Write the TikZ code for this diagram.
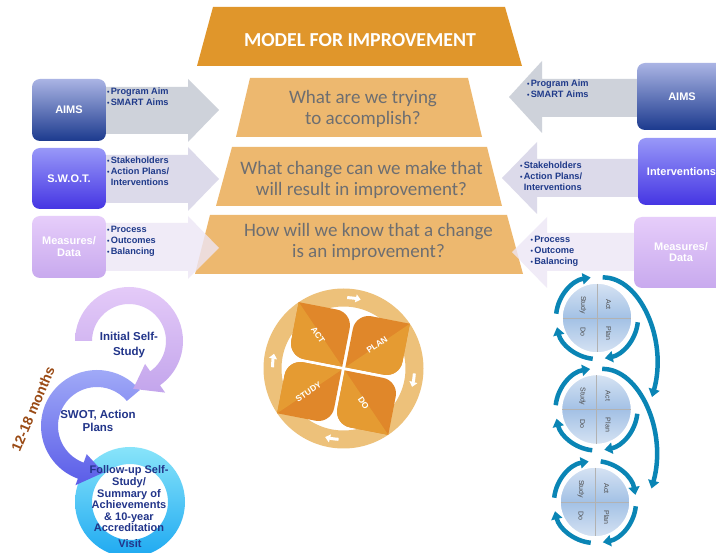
\documentclass[tikz,border=0pt]{standalone}
\usepackage{fontspec}
\setmainfont{Liberation Sans}
\newfontfamily\calib{Carlito}
\usetikzlibrary{arrows.meta,calc}
\definecolor{titleor}{HTML}{E0962B}
\definecolor{qor}{HTML}{EDB86F}
\definecolor{qtxt}{HTML}{6D6E71}
\definecolor{aimsarrow}{HTML}{CED2DA}
\definecolor{swotarrow}{HTML}{DCDAEA}
\definecolor{measarrow}{HTML}{EDE6F5}
\definecolor{aimstop}{HTML}{AAB4E4}
\definecolor{aimsbot}{HTML}{1C3A8E}
\definecolor{swottop}{HTML}{9898F8}
\definecolor{swotbot}{HTML}{4535E3}
\definecolor{meastop}{HTML}{E6CDFA}
\definecolor{measbot}{HTML}{C8A9EE}
\definecolor{navy}{HTML}{1F3A8A}
\definecolor{ringnavy}{HTML}{22358A}
\definecolor{ringor}{HTML}{EDC17A}
\definecolor{petaldark}{HTML}{E0872A}
\definecolor{petallight}{HTML}{E59B32}
\definecolor{pdsablue}{HTML}{0A85B5}
\definecolor{cyclight}{HTML}{D6E3F3}
\definecolor{cycdark}{HTML}{A3C1E5}
\definecolor{lavtop}{HTML}{E4CAF8}
\definecolor{lavbot}{HTML}{C3A5EC}
\definecolor{bluetop}{HTML}{A4AEF8}
\definecolor{bluebot}{HTML}{5A5CE8}
\definecolor{cyantop}{HTML}{88E4FA}
\definecolor{cyanbot}{HTML}{1EA9F1}
\definecolor{brownish}{HTML}{9A4A14}
\newcommand{\bl}{{\fontsize{7}{7}\selectfont •}\hspace{1.2pt}}
\tikzset{
  qtext/.style={font=\calib\fontsize{19}{21}\selectfont, text=qtxt, align=center, inner sep=0pt},
  boxa/.style={rounded corners=8pt, inner sep=0pt, text=white, align=center,
    font=\bfseries\fontsize{11}{12}\selectfont},
  bul/.style={font=\bfseries\fontsize{9.2}{11}\selectfont, text=navy, align=left, inner sep=0pt, anchor=north west},
  ringtext/.style={font=\bfseries\fontsize{11}{12}\selectfont, text=ringnavy, align=center, inner sep=0pt},
  petaltext/.style={font=\bfseries\fontsize{8.5}{9}\selectfont, text=white, inner sep=0pt},
  ringarrow/.style={white, line width=3pt, -{Triangle[length=5pt,width=8pt]}},
  cyc/.style={circle, minimum size=70pt, inner sep=0pt, draw=white, line width=1.5pt,
    top color=cyclight, bottom color=cyclight, middle color=cycdark},
  cyclab/.style={font=\fontsize{7}{8}\selectfont, text=black!70, rotate=-90, inner sep=0pt},
  parrow/.style={draw=pdsablue, line width=4.5pt, -{Triangle[length=8pt,width=11pt]}}
}
\begin{document}
\begin{tikzpicture}[x=1pt,y=-1pt]
\useasboundingbox (0,0) rectangle (716,553);
\clip (0,0) rectangle (716,553);
\fill[white] (0,0) rectangle (716,553);

% title
\fill[titleor] (213,7) -- (505,7) -- (522,66) -- (197,66) -- cycle;
\node[font=\calib\bfseries\fontsize{19.8}{22}\selectfont, text=white, inner sep=0pt] (title) at (360,40) {MODEL FOR IMPROVEMENT};

% question trapezoids
\fill[qor] (250,78) -- (468,78) -- (482,137) -- (236,137) -- cycle;
\fill[qor] (232,147) -- (487,147) -- (502,206) -- (216,206) -- cycle;
\fill[qor] (210,215) -- (507,215) -- (523,274) -- (195,274) -- cycle;

% left arrows
\fill[aimsarrow] (100,87) -- (188,87) -- (188,79) -- (219,110) -- (188,142) -- (188,134) -- (100,134) -- cycle;
\fill[swotarrow] (100,155) -- (188,155) -- (188,147) -- (219,179) -- (188,211) -- (188,203) -- (100,203) -- cycle;
\fill[measarrow, opacity=.8] (100,223) -- (188,223) -- (188,216) -- (219,248) -- (188,279) -- (188,271) -- (100,271) -- cycle;
% right arrows
\fill[aimsarrow] (645,79) -- (542,79) -- (542,61) -- (509,97) -- (542,133) -- (542,117) -- (645,117) -- cycle;
\fill[swotarrow] (645,159) -- (537,159) -- (537,142) -- (502,178) -- (537,214) -- (537,197) -- (645,197) -- cycle;
\fill[measarrow, opacity=.8] (645,233) -- (547,233) -- (547,217) -- (512,252) -- (547,288) -- (547,271) -- (645,271) -- cycle;

% question texts
\node[qtext] (q1) at (363,109) {What are we trying\\to accomplish?};
\node[qtext] (q2) at (361.5,179.5) {What change can we make that\\will result in improvement?};
\node[qtext] (q3) at (368.5,242) {How will we know that a change\\is an improvement?};

% left boxes
\node[boxa, minimum width=74pt, minimum height=62pt, top color=aimstop, bottom color=aimsbot] (laims) at (69,110) {AIMS};
\node[boxa, minimum width=74pt, minimum height=61pt, top color=swottop, bottom color=swotbot] (lswot) at (69,178.5) {S.W.O.T.};
\node[boxa, minimum width=74pt, minimum height=62pt, top color=meastop, bottom color=measbot] (lmeas) at (69,247) {Measures/\\Data};
% right boxes
\node[boxa, minimum width=90pt, minimum height=67pt, top color=aimstop, bottom color=aimsbot] (raims) at (682,96.5) {AIMS};
\node[boxa, minimum width=87pt, minimum height=67pt, top color=swottop, bottom color=swotbot] (rint) at (681.5,171.5) {Interventions};
\node[boxa, minimum width=94pt, minimum height=71pt, top color=meastop, bottom color=measbot, font=\bfseries\fontsize{11}{11}\selectfont] (rmeas) at (681,252.5) {Measures/\\Data};

% bullet texts
\node[bul] (bla) at (107,88) {\bl Program Aim\\\bl SMART Aims};
\node[bul] (bls) at (107,157) {\bl Stakeholders\\\bl Action Plans/\\\hphantom{\bl}Interventions};
\node[bul] (blm) at (107,225.5) {\bl Process\\\bl Outcomes\\\bl Balancing};
\node[bul] (bra) at (527,79.5) {\bl Program Aim\\\bl SMART Aims};
\node[bul] (bri) at (520,161.5) {\bl Stakeholders\\\bl Action Plans/\\\hphantom{\bl}Interventions};
\node[bul] (brm) at (530.5,235.5) {\bl Process\\\bl Outcome\\\bl Balancing};

% PDSA wheel
\coordinate (wc) at (343.5,368.5);
\fill[ringor, even odd rule] (wc) circle[radius=80] (wc) circle[radius=62];
\foreach \r/\h in {-11/0, -101/1, 79/1, -191/1} {
  \begin{scope}[shift={(wc)}, rotate=\r]
    \clip (-56.6,-56.6) -- (-17.6,-56.6) arc[start angle=-90,end angle=0,radius=16]
      -- (-1.6,-1.6) -- (-40.6,-1.6) arc[start angle=90,end angle=180,radius=16] -- cycle;
    \fill[petaldark] (-60,-60) rectangle (0,0);
    \ifnum\h=0
      \fill[petallight] (-60,-60) -- (0,0) -- (-60,0) -- cycle;
    \else
      \fill[petallight] (-60,-60) -- (0,0) -- (0,-60) -- cycle;
    \fi
  \end{scope}
}
\draw[ringarrow] ($(wc)+(-87:71)$) arc[start angle=-87,end angle=-76,radius=71];
\draw[ringarrow] ($(wc)+(4:71)$) arc[start angle=4,end angle=15,radius=71];
\draw[ringarrow] ($(wc)+(94:71)$) arc[start angle=94,end angle=105,radius=71];
\draw[ringarrow] ($(wc)+(-179:71)$) arc[start angle=-179,end angle=-168,radius=71];
\node[petaltext, rotate=-56] (tact) at (318,335) {ACT};
\node[petaltext, rotate=34] (tplan) at (377,345) {PLAN};
\node[petaltext, rotate=34] (tstudy) at (308.5,392) {STUDY};
\node[petaltext, rotate=-56] (tdo) at (363.5,403) {DO};

% left cycle rings
\coordinate (c1) at (129,341);
\coordinate (c2) at (97,426);
\coordinate (c3) at (130,502);
\path[even odd rule, top color=cyantop, bottom color=cyanbot] (c3) circle[radius=55] (c3) circle[radius=38];
\path[top color=bluetop, bottom color=bluebot] ($(c2)+(-40:56)$) arc[start angle=-40,end angle=-250,radius=56]
  -- ($(c2)+(-250:63)$) -- ($(c2)+(-278:47)$) -- ($(c2)+(-250:30)$) -- ($(c2)+(-250:39)$)
  arc[start angle=-250,end angle=-40,radius=39] -- cycle;
\path[top color=lavtop, bottom color=lavbot] ($(c1)+(-180:54)$) arc[start angle=-180,end angle=55,radius=54]
  -- ($(c1)+(55:63)$) -- ($(c1)+(85:48)$) -- ($(c1)+(55:28)$) -- ($(c1)+(55:37)$)
  arc[start angle=55,end angle=-180,radius=37] -- cycle;
\node[ringtext, font=\bfseries\fontsize{11.5}{15}\selectfont] (t1) at (129,345) {Initial Self-\\Study};
\node[ringtext, font=\bfseries\fontsize{11.5}{12.5}\selectfont] (t2) at (98,421) {SWOT, Action\\Plans};
\node[ringtext, font=\bfseries\fontsize{11}{11.6}\selectfont] (t3) at (129,499) {Follow-up Self-\\Study/\\Summary of\\Achievements\\\& 10-year\\Accreditation};
\node[ringtext] (t4) at (130,544) {Visit};
\node[font=\bfseries\fontsize{14}{15}\selectfont, text=brownish, rotate=67, inner sep=0pt] (months) at (33,409) {12-18 months};

% right PDSA stack
\node[cyc] (p1) at (597,318) {};
\node[cyc] (p2) at (596.5,409.5) {};
\node[cyc] (p3) at (595,502) {};
\foreach \p in {p1,p2,p3}{
  \draw[black!30, line width=0.6pt] ($(\p.north)+(0,1.5)$) -- ($(\p.south)+(0,-1.5)$);
  \draw[black!30, line width=0.6pt] ($(\p.west)+(1.5,0)$) -- ($(\p.east)+(-1.5,0)$);
  \node[cyclab] at ($(\p)+(11.5,-13.5)$) {Act};
  \node[cyclab] at ($(\p)+(11.5,15.5)$) {Plan};
  \node[cyclab] at ($(\p)+(-14,-13)$) {Study};
  \node[cyclab] at ($(\p)+(-14,14)$) {Do};
  \draw[parrow] ($(\p)+(-174:41)$) arc[start angle=-174,end angle=-99,radius=41];
  \draw[parrow] ($(\p)+(6:41)$) arc[start angle=6,end angle=79,radius=41];
  \draw[parrow] ($(\p)+(96:41)$) arc[start angle=96,end angle=167,radius=41];
}
\draw[parrow] ($(p1)+(-82:41)$) .. controls ($(p1)+(43,-41)$) and ($(p1)+(71,22)$) .. ($(p1)+(55,79)$);
\draw[parrow] ($(p2)+(-82:41)$) .. controls ($(p2)+(43,-41)$) and ($(p2)+(71,22)$) .. ($(p2)+(55,79)$);
\draw[parrow] ($(p3)+(-82:41)$) arc[start angle=-82,end angle=-10,radius=41];
\end{tikzpicture}
\end{document}
